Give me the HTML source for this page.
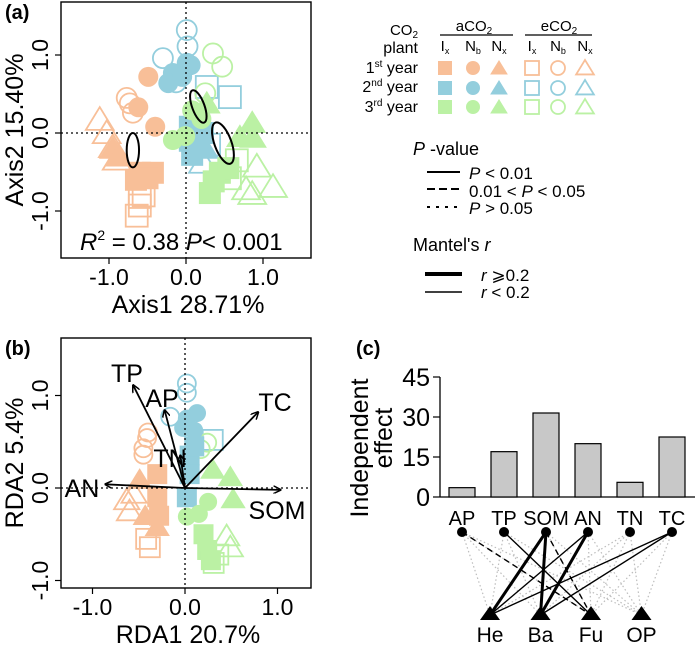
<!DOCTYPE html>
<html><head><meta charset="utf-8">
<style>
html,body{margin:0;padding:0;background:#fff;}
svg{display:block;font-family:"Liberation Sans",Arial,sans-serif;}
</style></head>
<body>
<svg id="fig" width="700" height="648" viewBox="0 0 700 648">
  <defs>
    <marker id="ah" markerWidth="8" markerHeight="8" refX="7" refY="4" orient="auto" markerUnits="userSpaceOnUse">
      <path d="M0,0 L8,4 L0,8" fill="none" stroke="#000" stroke-width="1.5"/>
    </marker>
  </defs>
  <g id="pa"></g>
  <g id="pb"></g>
  <g id="pc"></g>
  <g id="leg"></g>
</svg>
<script>
const NS='http://www.w3.org/2000/svg';
const COL={o:'#f8bf98',b:'#93cedd',g:'#bbf1a4'};

// ---- Panel (a) data: [x, y, color, shape, filled]
const aPoints=[
 [-0.6,-0.82,'o','s',0],[-0.6,-0.93,'o','s',0],[-0.64,-1.06,'o','s',0],[-0.55,-0.8,'o','s',0],
 [-1.12,0.17,'o','t',0],[-1.03,0.0,'o','t',0],[-0.95,-0.18,'o','t',0],[-0.9,-0.34,'o','t',0],
 [-0.73,0.38,'o','c',0],[-0.69,0.26,'o','c',0],[-0.77,0.45,'o','c',0],
 [0.01,1.32,'b','c',0],[0.02,1.11,'b','c',0],[-0.3,0.96,'b','c',0],[-0.13,0.65,'b','c',0],
 [0.27,0.59,'b','s',0],[0.57,0.46,'b','s',0],[0.22,-0.38,'b','t',0],[0.3,-0.15,'b','s',0],
 [0.35,1.02,'g','c',0],[0.47,0.85,'g','c',0],[0.25,0.51,'g','c',0],
 [0.92,-0.43,'g','t',0],[1.13,-0.69,'g','t',0],[0.86,-0.78,'g','t',0],[0.78,-0.72,'g','t',0],
 [0.66,-0.35,'g','s',0],[0.57,-0.58,'g','s',0],
 [-0.49,0.72,'o','c',1],[-0.62,0.33,'o','c',1],[-0.4,0.08,'o','c',1],
 [-0.95,-0.2,'o','t',1],[-0.88,-0.3,'o','t',1],
 [-0.6,-0.51,'o','s',1],[-0.43,-0.51,'o','s',1],[-0.65,-0.6,'o','s',1],[-0.5,-0.58,'o','s',1],
 [0.01,0.9,'b','c',1],[-0.17,0.77,'b','c',1],[-0.23,0.64,'b','c',1],[0.06,0.87,'b','c',1],[-0.05,0.72,'b','c',1],
 [0.05,0.08,'b','s',1],[0.05,-0.1,'b','s',1],[0.08,-0.28,'b','s',1],[0.22,0.0,'b','s',1],[0.25,-0.2,'b','t',1],
 [-0.17,-0.09,'g','c',1],[-0.01,-0.04,'g','c',1],[0.08,0.29,'g','c',1],[0.2,0.18,'g','c',1],
 [0.27,0.38,'g','t',1],[0.86,0.13,'g','t',1],[0.87,-0.06,'g','t',1],[0.7,-0.05,'g','t',1],
 [0.31,-0.77,'g','s',1],[0.44,-0.51,'g','s',1],[0.55,-0.45,'g','s',1],[0.36,-0.62,'g','s',1]
];
// ellipses: [cx, cy, rx(data), ry(data), rotation]
const aEllipses=[[-0.69,-0.22,0.08,0.22,0],[0.16,0.34,0.08,0.22,-20],[0.48,-0.13,0.11,0.28,-20]];
const aTicks=[-1,0,1];

// ---- Panel (b) data
const bPoints=[
 [-0.41,0.54,'o','c',0],[-0.45,0.43,'o','c',0],[-0.45,0.36,'o','c',0],[-0.4,0.6,'o','c',0],
 [-0.63,-0.13,'o','t',0],[-0.55,-0.06,'o','t',0],[-0.6,-0.25,'o','t',0],
 [-0.38,-0.64,'o','s',0],[-0.42,-0.55,'o','s',0],
 [0.02,1.13,'b','c',0],[0.02,1.03,'b','c',0],[-0.16,0.77,'b','c',0],[0.3,0.52,'b','s',0],
 [0.24,0.49,'g','c',0],[0.17,0.42,'g','c',0],[0.31,-0.81,'g','s',0],[0.36,-0.72,'g','s',0],
 [0.49,-0.64,'g','t',0],[0.45,-0.52,'g','t',0],
 [-0.49,0.09,'o','t',1],[-0.43,-0.3,'o','t',1],[-0.3,-0.1,'o','s',1],[-0.28,-0.3,'o','s',1],[-0.3,0.15,'o','s',1],[-0.3,-0.42,'o','t',1],
 [0.13,0.81,'b','c',1],[0.02,0.75,'b','c',1],[-0.02,0.65,'b','c',1],[0.1,0.62,'b','c',1],
 [0.05,0.35,'b','s',1],[0.05,0.15,'b','s',1],[0.02,-0.1,'b','s',1],[0.1,0.45,'b','s',1],
 [0.49,0.12,'g','t',1],[0.52,-0.12,'g','t',1],[0.3,0.2,'g','t',1],
 [0.02,-0.31,'g','c',1],[0.15,-0.28,'g','c',1],[0.25,-0.15,'g','c',1],
 [0.24,-0.67,'g','s',1],[0.28,-0.78,'g','s',1],[0.2,-0.5,'g','s',1]
];
const bVarNames=['TP','AP','TN','TC','SOM','AN'];
const bVarX=[-0.56,-0.22,-0.05,0.79,1.03,-0.86];
const bVarY=[1.11,0.84,0.35,0.82,-0.02,0.04];
const bTicks=[-1,0,1];

// ---- Panel (c) data
const cCats=['AP','TP','SOM','AN','TN','TC'];
const cValues=[3.5,17,31.5,20,5.5,22.5];
const cTicks=[0,15,30,45];
const cTargets=['He','Ba','Fu','OP'];
// links: [sourceIndex, targetIndex, type] type: thick, thin, dash
const cLinks=[[0,2,'dash'],[1,2,'thin'],[2,0,'thick'],[2,1,'thick'],[2,2,'dash'],[3,0,'thin'],[3,1,'thick'],[5,0,'thin'],[5,1,'thin']];

function el(parent,tag,attrs,text){const e=document.createElementNS(NS,tag);for(const k in attrs)e.setAttribute(k,attrs[k]);if(text!==undefined)e.textContent=text;parent.appendChild(e);return e;}

function marker(g,cx,cy,shape,color,filled,r){
  const c=COL[color];const fill=filled?c:'none';const st=filled?'none':c;let m;
  if(shape==='c'){m=el(g,'circle',{cx:cx,cy:cy,r:r,fill:fill,stroke:st,'stroke-width':1.8});}
  else if(shape==='s'){m=el(g,'rect',{x:cx-r,y:cy-r,width:2*r,height:2*r,fill:fill,stroke:st,'stroke-width':1.8});}
  else{const h=r*1.15;m=el(g,'polygon',{points:`${cx},${cy-h} ${cx+h*1.1},${cy+h*0.8} ${cx-h*1.1},${cy+h*0.8}`,fill:fill,stroke:st,'stroke-width':1.8});}
  return m;
}

function axesFrame(g,box,sx,sy,ticks,xt,yt){
  el(g,'rect',{x:box[0],y:box[1],width:box[2]-box[0],height:box[3]-box[1],fill:'none',stroke:'#000','stroke-width':1.4});
  ticks.forEach(t=>{
    const x=sx(t),y=sy(t);
    el(g,'line',{x1:x,y1:box[3],x2:x,y2:box[3]+6,stroke:'#000','stroke-width':1.2});
    const tl=el(g,'text',{x:x,y:box[3]+27,'font-size':23,'text-anchor':'middle'},t.toFixed(1));
    
    
    el(g,'line',{x1:box[0]-6,y1:y,x2:box[0],y2:y,stroke:'#000','stroke-width':1.2});
    const yl=el(g,'text',{x:0,y:0,'font-size':23,'text-anchor':'middle',transform:`translate(${box[0]-13},${y}) rotate(-90)`},t.toFixed(1));
    
    
  });
  el(g,'line',{x1:sx(0),y1:box[1],x2:sx(0),y2:box[3],stroke:'#000','stroke-width':1.3,'stroke-dasharray':'2,3'});
  el(g,'line',{x1:box[0],y1:sy(0),x2:box[2],y2:sy(0),stroke:'#000','stroke-width':1.3,'stroke-dasharray':'2,3'});
  const xa=el(g,'text',{x:(box[0]+box[2])/2+2,y:box[3]+55,'font-size':25,'text-anchor':'middle'},xt);
  
  
  const ya=el(g,'text',{x:0,y:0,'font-size':25,'text-anchor':'middle',transform:`translate(23,${(box[1]+box[3])/2}) rotate(-90)`},yt);
  
  
}

// ===== Panel A
(function(){
  const g=document.getElementById('pa');
  const box=[61,2,311,258];
  const sx=v=>186+v*77, sy=v=>133-v*78;
  const lab=el(g,'text',{x:5,y:19,'font-size':20,'font-weight':'bold'},'(a)');
  
  
  const pts=el(g,'g',{});
  aPoints.forEach(p=>{const m=marker(pts,sx(p[0]),sy(p[1]),p[3],p[2],p[4],p[3]==='c'?10:11);
    
    });
  aEllipses.forEach(e=>{const m=el(g,'ellipse',{cx:sx(e[0]),cy:sy(e[1]),rx:e[2]*77,ry:e[3]*78,fill:'none',stroke:'#000','stroke-width':2,transform:`rotate(${e[4]} ${sx(e[0])} ${sy(e[1])})`});
    
    });
  axesFrame(g,box,sx,sy,aTicks,'Axis1 28.71%','Axis2 15.40%');
  const t=el(g,'text',{x:80,y:250,'font-size':24});
  
  
  t.innerHTML='<tspan font-style="italic">R</tspan><tspan font-size="14" dy="-10">2</tspan><tspan dy="10"> = 0.38 </tspan><tspan font-style="italic">P</tspan><tspan>&lt; 0.001</tspan>';
})();

// ===== Panel B
(function(){
  const g=document.getElementById('pb');
  const box=[61,338,311,588];
  const sx=v=>185+v*92.5, sy=v=>488-v*92.5;
  const lab=el(g,'text',{x:5,y:355,'font-size':20,'font-weight':'bold'},'(b)');
  
  
  const pts=el(g,'g',{});
  bPoints.forEach(p=>{const m=marker(pts,sx(p[0]),sy(p[1]),p[3],p[2],p[4],p[3]==='c'?9:10);
    
    });
  axesFrame(g,box,sx,sy,bTicks,'RDA1  20.7%','RDA2  5.4%');
  const lx=[127,162,170,275,277,82], ly=[373,398,458,402,510,488];
  bVarNames.forEach((n,i)=>{
    const a=el(g,'line',{x1:sx(0),y1:sy(0),x2:sx(bVarX[i]),y2:sy(bVarY[i]),stroke:'#000','stroke-width':1.8,'marker-end':'url(#ah)'});
    
    
    const t=el(g,'text',{x:lx[i],y:ly[i]+9,'font-size':25,'text-anchor':'middle'},n);
    
    
  });
})();

// ===== Panel C
(function(){
  const g=document.getElementById('pc');
  const lab=el(g,'text',{x:356,y:355,'font-size':20,'font-weight':'bold'},'(c)');
  
  
  const y0=497, k=120/45;
  const sy=v=>y0-v*k;
  const bx=i=>462+i*42;
  el(g,'line',{x1:440,y1:sy(0),x2:440,y2:sy(45),stroke:'#000','stroke-width':1.3});
  el(g,'line',{x1:440,y1:y0,x2:695,y2:y0,stroke:'#000','stroke-width':1.3});
  cTicks.forEach(t=>{
    el(g,'line',{x1:433,y1:sy(t),x2:440,y2:sy(t),stroke:'#000','stroke-width':1.2});
    const tl=el(g,'text',{x:430,y:sy(t)+9,'font-size':25,'text-anchor':'end'},t);
    
    
  });
  const yt=el(g,'text',{x:0,y:0,'font-size':25,'text-anchor':'middle',transform:'translate(368,448) rotate(-90)'},'Independent');
  
  
  const yt2=el(g,'text',{x:0,y:0,'font-size':25,'text-anchor':'middle',transform:'translate(392,438) rotate(-90)'},'effect');
  
  
  cCats.forEach((c,i)=>{
    const b=el(g,'rect',{x:bx(i)-13,y:sy(cValues[i]),width:26,height:cValues[i]*k,fill:'#c8c8c8',stroke:'#000','stroke-width':1.2});
    
    
    const t=el(g,'text',{x:bx(i),y:525,'font-size':20,'text-anchor':'middle'},c);
    
    
  });
  const tx=j=>490+j*50.5, tyy=615, ny=532;
  cCats.forEach((c,i)=>cTargets.forEach((t,j)=>{
    el(g,'line',{x1:bx(i),y1:ny,x2:tx(j),y2:tyy,stroke:'#bdbdbd','stroke-width':1.2,'stroke-dasharray':'1.5,2.5'});
  }));
  cLinks.forEach(l=>{
    const a={x1:bx(l[0]),y1:ny,x2:tx(l[1]),y2:tyy,stroke:'#000','stroke-width':l[2]==='thick'?3:1.4};
    if(l[2]==='dash')a['stroke-dasharray']='6,4';
    const ln=el(g,'line',a);
    
    
  });
  cCats.forEach((c,i)=>{
    const n=el(g,'circle',{cx:bx(i),cy:ny,r:5,fill:'#000'});
    
    
  });
  cTargets.forEach((t,j)=>{
    const x=tx(j);
    const n=el(g,'polygon',{points:`${x},${tyy-9} ${x+10},${tyy+5} ${x-10},${tyy+5}`,fill:'#000'});
    
    
    const tl=el(g,'text',{x:x,y:642,'font-size':21,'text-anchor':'middle'},t);
    
    
  });
})();

// ===== Legend
(function(){
  const g=document.getElementById('leg');
  function T(x,y,s,fs,anchor,name){const t=el(g,'text',{x:x,y:y,'font-size':fs,'text-anchor':anchor||'start'});t.innerHTML=s;
    
    return t;}
  T(418,35,'CO<tspan font-size="10" dy="3">2</tspan>',15,'end');
  T(418,53,'plant',16,'end');
  T(418,73,'1<tspan font-size="10" dy="-6">st</tspan><tspan dy="6"> year</tspan>',16,'end');
  T(418,92,'2<tspan font-size="10" dy="-6">nd</tspan><tspan dy="6"> year</tspan>',16,'end');
  T(418,112,'3<tspan font-size="10" dy="-6">rd</tspan><tspan dy="6"> year</tspan>',16,'end');
  T(474,31,'aCO<tspan font-size="10" dy="3">2</tspan>',15,'middle');
  T(559,31,'eCO<tspan font-size="10" dy="3">2</tspan>',15,'middle');
  el(g,'line',{x1:440,y1:35,x2:513,y2:35,stroke:'#000','stroke-width':1.2});
  el(g,'line',{x1:525,y1:35,x2:592,y2:35,stroke:'#000','stroke-width':1.2});
  const cx=[445,473,499,532,558,585];
  const subs=['I<tspan font-size="9" dy="3">x</tspan>','N<tspan font-size="9" dy="3">b</tspan>','N<tspan font-size="9" dy="3">x</tspan>'];
  cx.forEach((x,i)=>T(x,51,subs[i%3],15,'middle','legend-plant-header'));
  const shapes=['s','c','t'], cols=['o','b','g'], ry=[68,88,107];
  cols.forEach((c,r)=>cx.forEach((x,i)=>{
    const m=marker(g,x,ry[r],shapes[i%3],c,i<3?1:0,7);
    
    
  }));
  T(413,155,'<tspan font-style="italic">P</tspan> -value',18,'start','p-value-legend-title');
  el(g,'line',{x1:427,y1:172,x2:460,y2:172,stroke:'#000','stroke-width':2});
  el(g,'line',{x1:427,y1:189,x2:460,y2:189,stroke:'#000','stroke-width':2,'stroke-dasharray':'8,4'});
  el(g,'line',{x1:427,y1:207,x2:460,y2:207,stroke:'#000','stroke-width':2,'stroke-dasharray':'3,6'});
  T(469,179,'<tspan font-style="italic">P</tspan>  &lt; 0.01',17);
  T(469,197,'0.01 &lt; <tspan font-style="italic">P</tspan> &lt; 0.05',17);
  T(469,214,'<tspan font-style="italic">P</tspan> &gt; 0.05',17);
  T(413,251,'Mantel\'s <tspan font-style="italic">r</tspan>',18,'start','mantel-legend-title');
  el(g,'line',{x1:425,y1:274,x2:462,y2:274,stroke:'#000','stroke-width':4});
  el(g,'line',{x1:425,y1:292,x2:462,y2:292,stroke:'#000','stroke-width':1.6});
  T(481,281,'<tspan font-style="italic">r</tspan> ⩾0.2',17);
  T(481,298,'<tspan font-style="italic">r</tspan> &lt; 0.2',17);
})();
</script>
</body></html>
